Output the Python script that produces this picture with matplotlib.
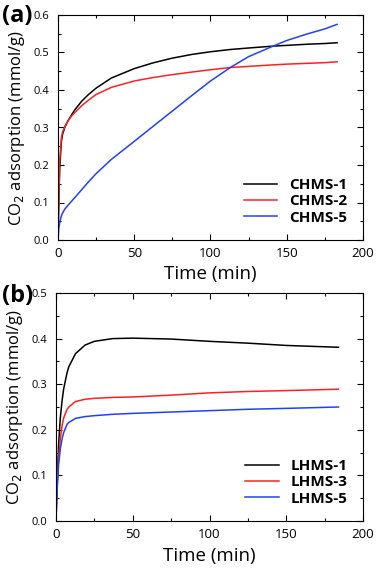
import numpy as np
import matplotlib
matplotlib.use("Agg")
import matplotlib.pyplot as plt
from matplotlib.ticker import MultipleLocator, FormatStrFormatter

plt.rcParams['font.family'] = ['Open Sans', 'DejaVu Sans']

# panel (a)
t_a = [0, 0.5, 1.1, 2.2, 3, 4.4, 6.6, 8.8, 11, 15.5, 20, 25, 35, 50, 62, 75, 88, 100,
       113, 125, 141, 150, 163, 175, 183]
chms1 = [0, 0.10, 0.19, 0.262, 0.282, 0.30, 0.318, 0.333, 0.347, 0.37, 0.388, 0.405, 0.432, 0.457,
         0.472, 0.485, 0.495, 0.502, 0.508, 0.512, 0.517, 0.519, 0.522, 0.524, 0.526]
chms2 = [0, 0.10, 0.21, 0.272, 0.288, 0.302, 0.318, 0.33, 0.34, 0.358, 0.373, 0.388, 0.407, 0.424,
         0.433, 0.441, 0.448, 0.454, 0.46, 0.463, 0.467, 0.469, 0.471, 0.473, 0.475]
chms5 = [0, 0.03, 0.046, 0.064, 0.072, 0.082, 0.093, 0.103, 0.113, 0.134, 0.155, 0.177, 0.215, 0.263,
         0.302, 0.344, 0.386, 0.424, 0.46, 0.489, 0.517, 0.532, 0.549, 0.563, 0.575]

# panel (b)
t_b = [0, 0.3, 0.7, 1.7, 2.8, 4, 5, 7.2, 8.3, 12.7, 19, 25, 37, 50, 75, 100, 125, 150, 184]
lhms1 = [0, 0.04, 0.08, 0.168, 0.226, 0.265, 0.29, 0.325, 0.338, 0.367, 0.386, 0.394, 0.4, 0.401,
         0.399, 0.394, 0.39, 0.385, 0.381]
lhms3 = [0, 0.035, 0.073, 0.139, 0.18, 0.21, 0.226, 0.245, 0.25, 0.262, 0.267, 0.269, 0.271, 0.272,
         0.276, 0.281, 0.284, 0.286, 0.289]
lhms5 = [0, 0.03, 0.066, 0.124, 0.158, 0.181, 0.194, 0.212, 0.216, 0.225, 0.229, 0.231, 0.234, 0.236,
         0.239, 0.242, 0.245, 0.247, 0.25]

fig = plt.figure(figsize=(3.78, 5.70), dpi=100)
ax1 = fig.add_axes([58/378, 1 - 240/570, 305/378, 225/570])
ax2 = fig.add_axes([56/378, 1 - 521/570, 307/378, 228/570])

def style(ax, ymax):
    ax.set_xlim(0, 200)
    ax.set_ylim(0, ymax)
    ax.xaxis.set_major_locator(MultipleLocator(50))
    ax.xaxis.set_minor_locator(MultipleLocator(25))
    ax.yaxis.set_major_locator(MultipleLocator(0.1))
    ax.yaxis.set_minor_locator(MultipleLocator(0.05))
    ax.tick_params(which='both', direction='in', top=True, right=True)
    ax.tick_params(which='major', length=4, width=0.8)
    ax.tick_params(which='minor', length=2, width=0.8)
    ax.tick_params(axis='x', labelsize=9.5, pad=5)
    ax.tick_params(axis='y', labelsize=8, pad=6)
    ax.yaxis.set_major_formatter(FormatStrFormatter('%.1f'))
    ax.set_xlabel("Time (min)", fontsize=13.5, labelpad=4)
    ax.set_ylabel("CO$_2$ adsorption (mmol/g)", fontsize=12, labelpad=5)
    for s in ax.spines.values():
        s.set_linewidth(0.8)

ax1.plot(t_a, chms1, color='black', lw=1.1, label='CHMS-1')
ax1.plot(t_a, chms2, color='#ff2020', lw=1.1, label='CHMS-2')
ax1.plot(t_a, chms5, color='#2040ff', lw=1.1, label='CHMS-5')
style(ax1, 0.6)

ax2.plot(t_b, lhms1, color='black', lw=1.1, label='LHMS-1')
ax2.plot(t_b, lhms3, color='#ff2020', lw=1.1, label='LHMS-3')
ax2.plot(t_b, lhms5, color='#2040ff', lw=1.1, label='LHMS-5')
style(ax2, 0.5)

for ax in (ax1, ax2):
    ax.legend(loc='lower right', frameon=False, handlelength=2.2,
              prop={'weight': 'bold', 'size': 11}, labelspacing=0.15,
              handletextpad=0.8, borderaxespad=0.6)

fig.text(2/378, 1 - 22/570, "(a)", fontsize=17, fontweight='bold')
fig.text(2/378, 1 - 302/570, "(b)", fontsize=17, fontweight='bold')

fig.savefig("out.png", dpi=100)
